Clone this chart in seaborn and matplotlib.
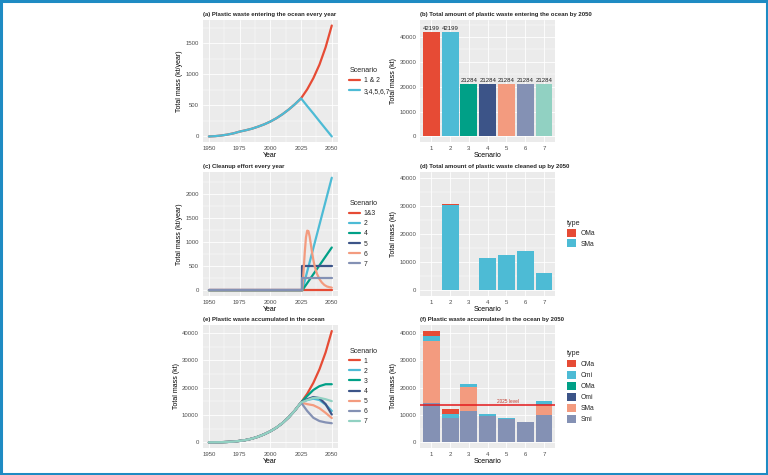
import numpy as np
import pandas as pd
import seaborn as sns
import matplotlib.pyplot as plt
from matplotlib.patches import Rectangle
from matplotlib.ticker import MultipleLocator

# ---- data ----
npg = ["#E64B35", "#4DBBD5", "#00A087", "#3C5488", "#F39B7F", "#8491B4", "#91D1C2"]

# (a) waste entering the ocean every year (kt/year)
years_hist = [1950, 1955, 1960, 1965, 1970, 1975, 1980, 1985, 1990, 1995, 2000, 2005, 2010, 2015, 2020, 2025]
entry_hist = [0, 5, 15, 30, 50, 78, 100, 125, 158, 195, 240, 295, 360, 435, 520, 615]
years_future = [2030, 2035, 2040, 2045, 2050]
entry_high = [760, 940, 1160, 1440, 1790]
entry_low = [490, 370, 245, 122, 0]
entry_labels = ["1 & 2", "3,4,5,6,7"]

# (b) total entering by 2050 (kt)
scenarios = ["1", "2", "3", "4", "5", "6", "7"]
entry_total = [42199, 42199, 21284, 21284, 21284, 21284, 21284]

# (c) cleanup effort every year (kt/year)
clean_labels = ["1&3", "2", "4", "5", "6", "7"]
clean_x = {
    "1&3": [1950, 2050],
    "2": [1950, 2026, 2050],
    "4": [1950, 2026, 2050],
    "5": [1950, 2026, 2026, 2050],
    "6": [1950, 2026, 2027, 2028, 2029, 2030, 2031, 2032, 2033, 2034, 2035, 2036, 2037, 2038,
          2040, 2042, 2044, 2046, 2048, 2050],
    "7": [1950, 2026, 2026, 2050],
}
clean_y = {
    "1&3": [0, 0],
    "2": [0, 0, 2340],
    "4": [0, 0, 890],
    "5": [0, 0, 500, 500],
    "6": [0, 0, 380, 780, 1100, 1240, 1230, 1120, 950, 780, 630, 510, 420, 340,
          230, 160, 110, 80, 65, 55],
    "7": [0, 0, 250, 250],
}

# (d) cleaned up by 2050 (kt)
clean_types = ["OMa", "SMa"]
clean_OMa = [0, 400, 0, 0, 0, 0, 0]
clean_SMa = [0, 30100, 0, 11600, 12500, 13900, 6300]

# (e) accumulated in the ocean (kt)
acc_hist = [0, 20, 60, 140, 280, 520, 850, 1350, 2050, 2950, 4050, 5400, 7100, 9200, 11700, 14600]
acc_future = {
    "1": [17800, 21800, 26800, 33000, 40800],
    "2": [15500, 16000, 15500, 13800, 11500],
    "3": [17000, 19200, 20600, 21300, 21300],
    "4": [15800, 16600, 16200, 14000, 10200],
    "5": [14000, 13600, 12500, 10800, 8900],
    "6": [11500, 9000, 7800, 7300, 7000],
    "7": [15500, 16300, 16300, 15800, 15100],
}

# (f) accumulated by 2050, by type (kt)
acc_types = ["CMa", "Cmi", "OMa", "Omi", "SMa", "Smi"]
acc_CMa = [2100, 1800, 0, 0, 0, 0, 0]
acc_Cmi = [1500, 1450, 1150, 700, 600, 250, 1400]
acc_OMa = [0, 0, 0, 0, 0, 0, 0]
acc_Omi = [0, 0, 0, 0, 0, 0, 0]
acc_SMa = [22800, 0, 8600, 0, 0, 0, 3800]
acc_Smi = [14500, 9000, 11600, 9700, 8400, 7300, 10000]
level_2025 = 13600

# ---- style ----
sns.set_theme(style="darkgrid", rc={
    "axes.facecolor": "#EBEBEB",
    "grid.color": "white",
    "axes.edgecolor": "#EBEBEB",
    "patch.edgecolor": "none",
})
plt.rcParams["font.family"] = ["Liberation Sans", "DejaVu Sans"]

TICK = 4.3
LAB = 5.0
TITLE = 4.3
LEG = 4.9

fig = plt.figure(figsize=(7.68, 4.75), dpi=100)
fig.patch.set_facecolor("white")

lx, rx, w = 0.264, 0.547, 0.176
rows = [(0.701, 0.257), (0.377, 0.261), (0.057, 0.259)]
ax_a = fig.add_axes([lx, rows[0][0], w, rows[0][1]])
ax_b = fig.add_axes([rx, rows[0][0], w, rows[0][1]])
ax_c = fig.add_axes([lx, rows[1][0], w, rows[1][1]])
ax_d = fig.add_axes([rx, rows[1][0], w, rows[1][1]])
ax_e = fig.add_axes([lx, rows[2][0], w, rows[2][1]])
ax_f = fig.add_axes([rx, rows[2][0], w, rows[2][1]])


def gg_axes(ax, title, xlabel, ylabel):
    ax.set_title(title, loc="left", fontsize=TITLE, fontweight="bold", pad=3)
    ax.set_xlabel(xlabel, fontsize=LAB, labelpad=0.5, color="black")
    ax.set_ylabel(ylabel, fontsize=LAB, labelpad=1.5, color="black")
    ax.tick_params(axis="both", labelsize=TICK, length=1.8, width=0.5, color="#333333",
                   labelcolor="#4D4D4D", pad=1)
    ax.tick_params(which="minor", length=0)
    ax.grid(which="major", color="white", linewidth=0.6)
    ax.grid(which="minor", color="white", linewidth=0.3)
    for s in ax.spines.values():
        s.set_visible(False)


def year_axis(ax):
    ax.set_xlim(1945, 2055)
    ax.set_xticks([1950, 1975, 2000, 2025, 2050])
    ax.xaxis.set_minor_locator(MultipleLocator(12.5))


def line_legend(ax, title):
    leg = ax.legend(title=title, loc="center left", bbox_to_anchor=(1.04, 0.5), frameon=False,
                    fontsize=LEG, title_fontsize=LEG + 0.2, handlelength=1.5, labelspacing=0.45,
                    handletextpad=0.6)
    leg._legend_box.align = "left"
    for line in leg.get_lines():
        line.set_linewidth(1.6)


def box_legend(ax, handles, labels, title, spacing):
    leg = ax.legend(handles, labels, title=title, loc="center left", bbox_to_anchor=(1.04, 0.5),
                    frameon=False, fontsize=LEG, title_fontsize=LEG + 0.2, handlelength=1.4,
                    handleheight=1.4, labelspacing=spacing, handletextpad=0.6)
    leg._legend_box.align = "left"


# (a)
df_a = pd.concat([
    pd.DataFrame({"Year": years_hist + years_future, "mass": entry_hist + entry_high, "Scenario": entry_labels[0]}),
    pd.DataFrame({"Year": years_hist + years_future, "mass": entry_hist + entry_low, "Scenario": entry_labels[1]}),
])
sns.lineplot(data=df_a, x="Year", y="mass", hue="Scenario", palette=npg[:2], linewidth=1.6,
             estimator=None, sort=False, ax=ax_a)
year_axis(ax_a)
ax_a.set_ylim(-90, 1880)
ax_a.set_yticks([0, 500, 1000, 1500])
ax_a.yaxis.set_minor_locator(MultipleLocator(250))
gg_axes(ax_a, "(a) Plastic waste entering the ocean every year", "Year", "Total mass (kt/year)")
line_legend(ax_a, "Scenario")

# (b)
df_b = pd.DataFrame({"Scenario": scenarios, "mass": entry_total})
sns.barplot(data=df_b, x="Scenario", y="mass", hue="Scenario", palette=npg, width=0.9,
            saturation=1, legend=False, linewidth=0, ax=ax_b)
for cont in ax_b.containers:
    ax_b.bar_label(cont, fmt="%d", fontsize=4.3, padding=0.2, color="#222222")
ax_b.set_xlim(-0.6, 6.6)
ax_b.set_ylim(-2300, 46900)
ax_b.set_yticks([0, 10000, 20000, 30000, 40000])
ax_b.yaxis.set_minor_locator(MultipleLocator(5000))
gg_axes(ax_b, "(b) Total amount of plastic waste entering the ocean by 2050", "Scenario", "Total mass (kt)")

# (c)
df_c = pd.concat([pd.DataFrame({"Year": clean_x[k], "mass": clean_y[k], "Scenario": k}) for k in clean_labels])
sns.lineplot(data=df_c, x="Year", y="mass", hue="Scenario", palette=npg[:6], linewidth=1.6,
             estimator=None, sort=False, ax=ax_c)
year_axis(ax_c)
ax_c.set_ylim(-117, 2460)
ax_c.set_yticks([0, 500, 1000, 1500, 2000])
ax_c.yaxis.set_minor_locator(MultipleLocator(250))
gg_axes(ax_c, "(c) Cleanup effort every year", "Year", "Total mass (kt/year)")
line_legend(ax_c, "Scenario")

# (d) stacked bars, first level on top
pos = np.arange(len(scenarios))
d_cols = {"OMa": clean_OMa, "SMa": clean_SMa}
bottom = np.zeros(len(scenarios))
for t in reversed(clean_types):
    vals = np.array(d_cols[t])
    ax_d.bar(pos, vals, bottom=bottom, width=0.9, color=npg[clean_types.index(t)], linewidth=0, label=t)
    bottom += vals
ax_d.set_xticks(pos)
ax_d.set_xticklabels(scenarios)
ax_d.set_xlim(-0.6, 6.6)
ax_d.set_ylim(-2000, 42000)
ax_d.set_yticks([0, 10000, 20000, 30000, 40000])
ax_d.yaxis.set_minor_locator(MultipleLocator(5000))
gg_axes(ax_d, "(d) Total amount of plastic waste cleaned up by 2050", "Scenario", "Total mass (kt)")
h, l = ax_d.get_legend_handles_labels()
box_legend(ax_d, h[::-1], l[::-1], "type", 0.3)

# (e)
df_e = pd.concat([pd.DataFrame({"Year": years_hist + years_future, "mass": acc_hist + acc_future[k], "Scenario": k})
                  for k in scenarios])
sns.lineplot(data=df_e, x="Year", y="mass", hue="Scenario", palette=npg, linewidth=1.6,
             estimator=None, sort=False, ax=ax_e)
year_axis(ax_e)
ax_e.set_ylim(-2050, 43050)
ax_e.set_yticks([0, 10000, 20000, 30000, 40000])
ax_e.yaxis.set_minor_locator(MultipleLocator(5000))
gg_axes(ax_e, "(e) Plastic waste accumulated in the ocean", "Year", "Total mass (kt)")
line_legend(ax_e, "Scenario")

# (f) stacked bars, first level on top
f_cols = {"CMa": acc_CMa, "Cmi": acc_Cmi, "OMa": acc_OMa, "Omi": acc_Omi, "SMa": acc_SMa, "Smi": acc_Smi}
bottom = np.zeros(len(scenarios))
for t in reversed(acc_types):
    vals = np.array(f_cols[t])
    ax_f.bar(pos, vals, bottom=bottom, width=0.9, color=npg[acc_types.index(t)], linewidth=0, label=t)
    bottom += vals
ax_f.axhline(level_2025, color="#E41A1C", linewidth=1.1)
ax_f.text(4.1, level_2025 + 600, "2025 level", color="#C0392B", fontsize=3.4, ha="center", va="bottom")
ax_f.set_xticks(pos)
ax_f.set_xticklabels(scenarios)
ax_f.set_xlim(-0.6, 6.6)
ax_f.set_ylim(-2050, 43050)
ax_f.set_yticks([0, 10000, 20000, 30000, 40000])
ax_f.yaxis.set_minor_locator(MultipleLocator(5000))
gg_axes(ax_f, "(f) Plastic waste accumulated in the ocean by 2050", "Scenario", "Total mass (kt)")
h, l = ax_f.get_legend_handles_labels()
box_legend(ax_f, h[::-1], l[::-1], "type", 0.42)

for ax in (ax_b, ax_d, ax_f):
    ax.set_axisbelow(True)

# blue frame around the picture
fig.patches.append(Rectangle((0.0015, 0.002), 0.997, 0.996, transform=fig.transFigure,
                             fill=False, edgecolor="#1E8BC3", linewidth=2.2))

fig.savefig("out.png", dpi=100, facecolor="white")
